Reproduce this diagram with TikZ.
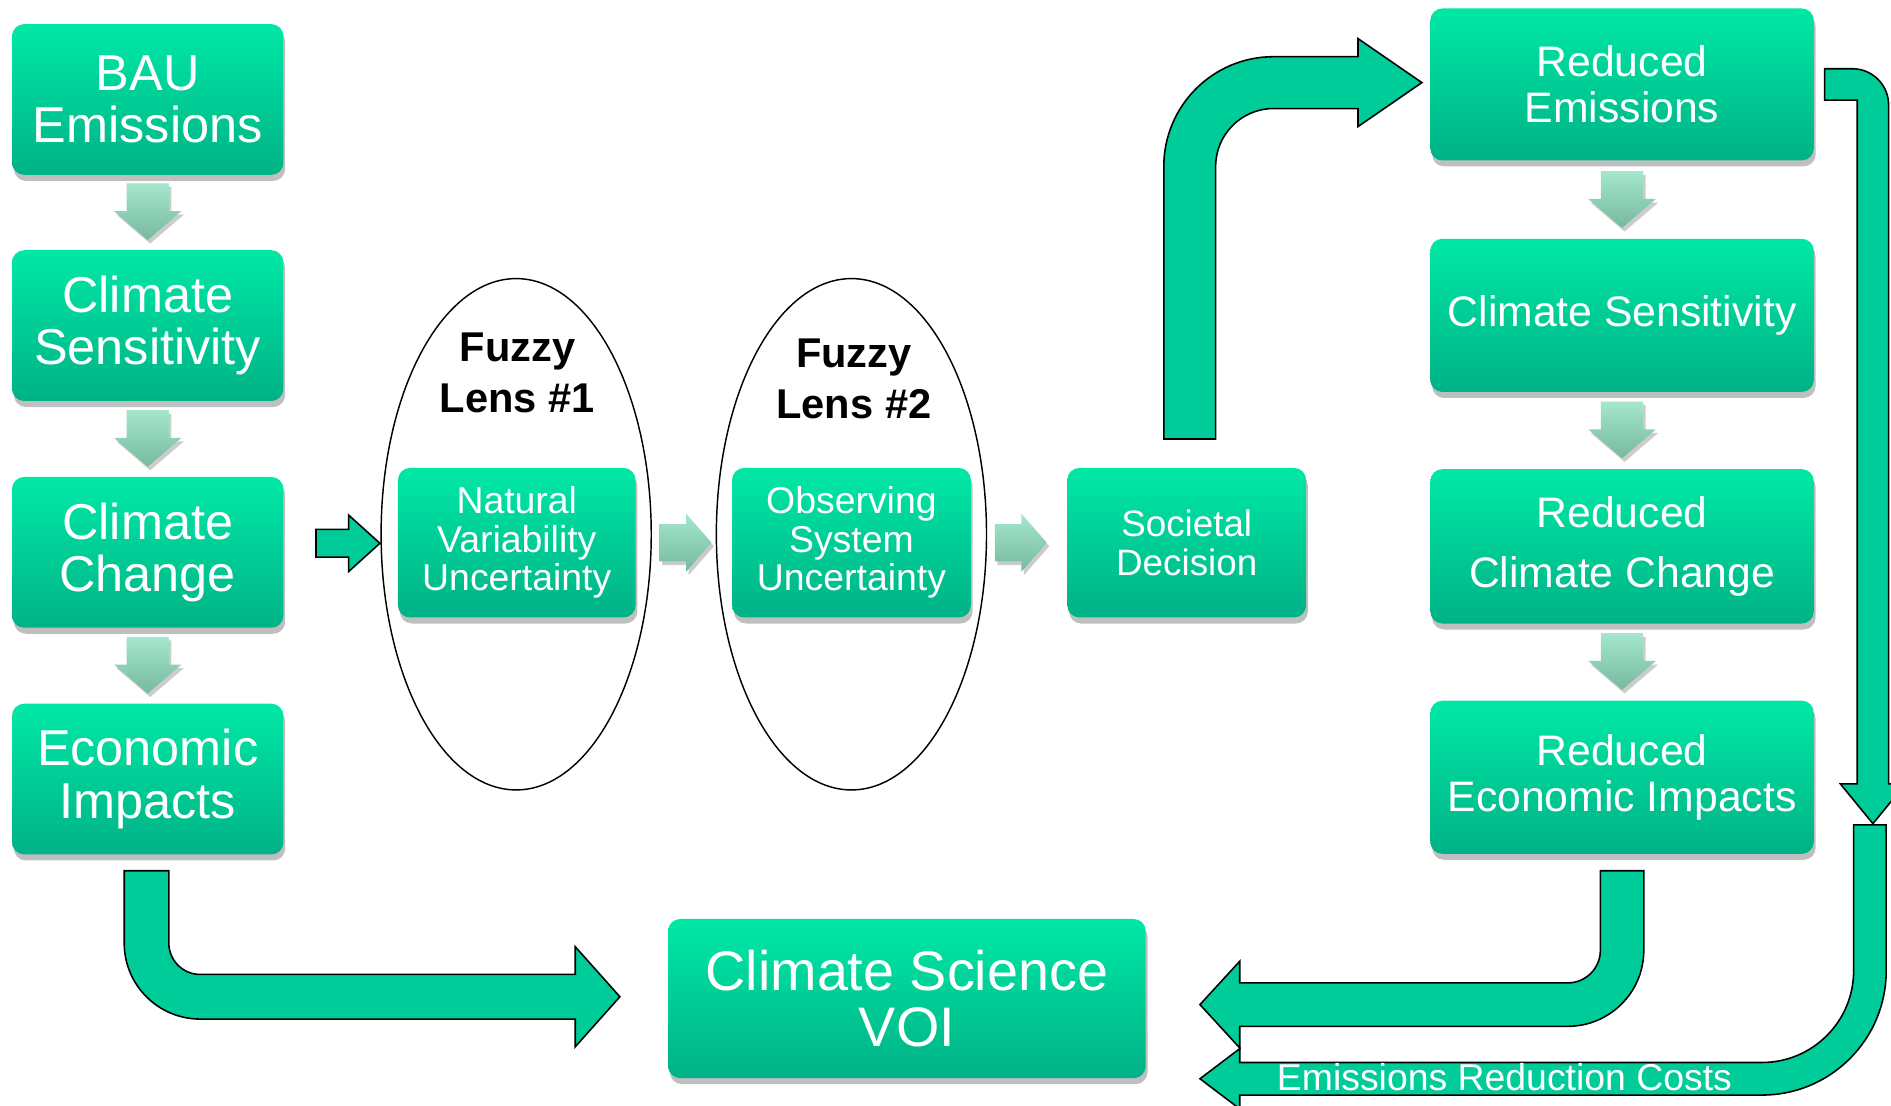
\documentclass[tikz,border=0pt]{standalone}
\usepackage{fontspec}
\setmainfont{Liberation Sans}
\usetikzlibrary{shadows,shapes.geometric}
\definecolor{boxtop}{RGB}{0,232,166}
\definecolor{boxbot}{RGB}{0,178,134}
\definecolor{arrfill}{RGB}{0,204,153}
\definecolor{gtop}{RGB}{165,230,205}
\definecolor{gbot}{RGB}{118,186,158}
\tikzset{
  gbox/.style={rectangle, rounded corners=10pt, top color=boxtop, bottom color=boxbot,
    draw=none, text=white, align=center, inner sep=0pt,
    drop shadow={shadow xshift=1.5pt, shadow yshift=-5pt, fill=black, opacity=0.25}},
  bigfont/.style={font=\fontsize{41.8}{43.5}\selectfont},
  midfont/.style={font=\fontsize{35.4}{38}\selectfont},
  smallfont/.style={font=\fontsize{31}{32}\selectfont},
  garrow/.style={top color=gtop, bottom color=gbot, draw=none,
    drop shadow={shadow xshift=2pt, shadow yshift=-3pt, fill=black, opacity=0.2}},
  blockarrow/.style={fill=arrfill, draw=black, line width=1.3pt, line join=miter},
  lens/.style={ellipse, draw=black, line width=1.2pt, inner sep=0pt},
  pics/downarr/.style={code={\path[garrow] (-17.5,0) -- (17.5,0) -- (17.5,23) -- (28,23) -- (0,47) -- (-28,23) -- (-17.5,23) -- cycle;}},
  pics/rightarr/.style={code={\path[garrow] (0,-15.5) -- (22,-15.5) -- (22,-24) -- (43,0) -- (22,24) -- (22,15.5) -- (0,15.5) -- cycle;}}
}
\begin{document}
\begin{tikzpicture}[x=1pt,y=-1pt]
\useasboundingbox (0,0) rectangle (1568,917);
\clip (0,0) rectangle (1568,917);

% lenses
\node[lens, minimum width=224pt, minimum height=424pt] (lens1) at (428,443) {};
\node[lens, minimum width=224pt, minimum height=424pt] (lens2) at (706,443) {};
\node[font=\bfseries\fontsize{34.5}{42}\selectfont, align=center] (f1) at (429,309) {Fuzzy\\Lens \#1};
\node[font=\bfseries\fontsize{34.5}{42}\selectfont, align=center] (f2) at (708,314) {Fuzzy\\Lens \#2};

% left column
\node[gbox, bigfont, minimum width=225pt, minimum height=125pt] (bau) at (122.5,82.5) {BAU\\Emissions};
\node[gbox, bigfont, minimum width=225pt, minimum height=125pt] (cs) at (122.5,270) {Climate\\Sensitivity};
\node[gbox, bigfont, minimum width=225pt, minimum height=125pt] (cc) at (122.5,458) {Climate\\Change};
\node[gbox, bigfont, minimum width=225pt, minimum height=125pt] (ei) at (122.5,646) {Economic\\Impacts};
\pic at (122.5,152) {downarr};
\pic at (122.5,340) {downarr};
\pic at (122.5,528) {downarr};

% middle boxes
\node[gbox, smallfont, minimum width=197pt, minimum height=124pt] (nvu) at (428.5,450) {Natural\\Variability\\Uncertainty};
\node[gbox, smallfont, minimum width=198pt, minimum height=124pt] (osu) at (706,450) {Observing\\System\\Uncertainty};
\node[gbox, font=\fontsize{30.5}{32}\selectfont, minimum width=198pt, minimum height=124pt] (sd) at (984,450) {Societal\\Decision};
\pic at (547,450) {rightarr};
\pic at (825,450) {rightarr};

% right column
\node[gbox, midfont, minimum width=318pt, minimum height=126pt] (re) at (1345,70) {Reduced\\Emissions};
\node[gbox, midfont, minimum width=318pt, minimum height=127pt] (rcs) at (1345,261.5) {Climate Sensitivity};
\node[gbox, font=\fontsize{35.4}{50}\selectfont, minimum width=318pt, minimum height=128pt] (rcc) at (1345,453) {Reduced\\Climate Change};
\node[gbox, midfont, minimum width=318pt, minimum height=127pt] (rei) at (1345,644.5) {Reduced\\Economic Impacts};
\pic at (1345,142) {downarr};
\pic at (1345,333) {downarr};
\pic at (1345,525) {downarr};

% VOI
\node[gbox, font=\fontsize{46.2}{47}\selectfont, minimum width=396pt, minimum height=132pt] (voi) at (752,828) {Climate Science\\VOI};

% block arrows
% climate change -> lens 1
\path[blockarrow] (262,439) -- (289,439) -- (289,427) -- (315,450.5) -- (289,474) -- (289,462) -- (262,462) -- cycle;
% societal decision -> reduced emissions
\path[blockarrow] (965,364) -- (965,138) arc[start angle=180, end angle=270, radius=91]
  -- (1126,47) -- (1126,32) -- (1179,68.5) -- (1126,105) -- (1126,90) -- (1056,90)
  arc[start angle=270, end angle=180, radius=48] -- (1008,364) -- cycle;
% economic impacts -> VOI
\path[blockarrow] (103,722) -- (103,782) arc[start angle=180, end angle=90, radius=63]
  -- (477,845) -- (477,868) -- (514,826.5) -- (477,785) -- (477,808) -- (166,808)
  arc[start angle=90, end angle=180, radius=26] -- (140,722) -- cycle;
% reduced economic impacts -> VOI
\path[blockarrow] (1363,722) -- (1363,788) arc[start angle=0, end angle=90, radius=63]
  -- (1028,851) -- (1028,869) -- (995,833) -- (1028,797) -- (1028,815) -- (1300,815)
  arc[start angle=90, end angle=0, radius=27] -- (1327,722) -- cycle;
% reduced emissions -> down
\path[blockarrow] (1513,57) -- (1536,57) arc[start angle=270, end angle=360, radius=30]
  -- (1566,650) -- (1580,650) -- (1553,683) -- (1526,650) -- (1540,650) -- (1540,83) -- (1513,83) -- cycle;
% emissions reduction costs -> VOI
\path[blockarrow] (1537,684) -- (1564,684) -- (1564,805) arc[start angle=0, end angle=90, radius=103]
  -- (1028,908) -- (1028,919.5) -- (995,894.5) -- (1028,869.5) -- (1028,881) -- (1461,881)
  arc[start angle=90, end angle=0, radius=76] -- cycle;
\node[text=white, font=\fontsize{31}{33}\selectfont, inner sep=0pt] (erc) at (1247.5,893) {Emissions Reduction Costs};
\end{tikzpicture}
\end{document}
